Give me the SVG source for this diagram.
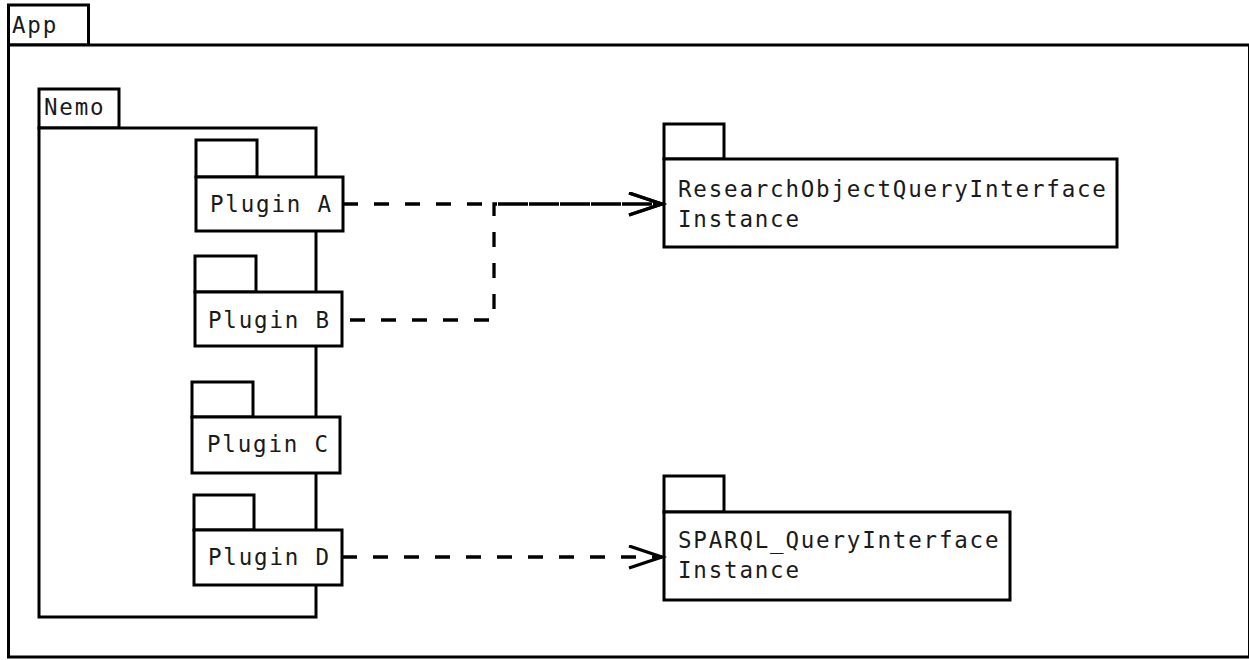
<svg xmlns="http://www.w3.org/2000/svg" width="1249" height="660" viewBox="0 0 1249 660">
  <style>
    .frame { fill: #ffffff; stroke: #000000; stroke-width: 3; }
    .label { font-family: "DejaVu Sans Mono", "Liberation Mono", monospace; font-size: 22.5px; letter-spacing: 1.8px; fill: #1a1a1a; }
    .dep { fill: none; stroke: #000000; stroke-width: 3.3; stroke-dasharray: 15 16; }
  </style>
  <defs>
    <marker id="open-arrow" markerUnits="userSpaceOnUse" markerWidth="40" markerHeight="30" refX="35" refY="12" orient="auto">
      <path d="M2,1 L35,12 L2,23" fill="none" stroke="#000000" stroke-width="3.3"/>
    </marker>
  </defs>
  <rect width="1249" height="660" fill="#ffffff"/>

  <!-- outer package -->
  <g id="app">
    <rect class="frame" x="8.5" y="5" width="80" height="40"/>
    <rect class="frame" x="8.5" y="45" width="1241" height="612"/>
    <text class="label" x="12" y="33">App</text>
  </g>

  <!-- inner package -->
  <g id="nemo">
    <rect class="frame" x="39" y="89" width="80" height="39"/>
    <rect class="frame" x="39" y="128" width="277" height="489"/>
    <text class="label" x="44" y="115">Nemo</text>
  </g>

  <g id="plugin-a">
    <rect class="frame" x="196" y="140" width="61" height="37"/>
    <rect class="frame" x="196" y="177" width="147" height="54"/>
    <text class="label" x="210" y="212">Plugin A</text>
  </g>

  <g id="plugin-b">
    <rect class="frame" x="195" y="256" width="61" height="36"/>
    <rect class="frame" x="195" y="292" width="147" height="54"/>
    <text class="label" x="208" y="328">Plugin B</text>
  </g>

  <g id="plugin-c">
    <rect class="frame" x="192" y="382" width="61" height="35"/>
    <rect class="frame" x="192" y="417" width="148" height="56"/>
    <text class="label" x="207" y="452">Plugin C</text>
  </g>

  <g id="plugin-d">
    <rect class="frame" x="194" y="495" width="60" height="35"/>
    <rect class="frame" x="194" y="530" width="148" height="55"/>
    <text class="label" x="208" y="565">Plugin D</text>
  </g>

  <g id="research-object-qi">
    <rect class="frame" x="664" y="124" width="60" height="35"/>
    <rect class="frame" x="664" y="159" width="453" height="88"/>
    <text class="label" x="678" y="197">ResearchObjectQueryInterface</text>
    <text class="label" x="678" y="227">Instance</text>
  </g>

  <g id="sparql-qi">
    <rect class="frame" x="664" y="476" width="60" height="36"/>
    <rect class="frame" x="664" y="512" width="346" height="88"/>
    <text class="label" x="678" y="548">SPARQL_QueryInterface</text>
    <text class="label" x="678" y="578">Instance</text>
  </g>

  <!-- dependency arrows -->
  <g id="connectors">
    <path class="dep" d="M343,204 L662,204" marker-end="url(#open-arrow)"/>
    <path class="dep" d="M342,320 L494,320 L494,204 L662,204" stroke-dashoffset="-8" marker-end="url(#open-arrow)"/>
    <path class="dep" d="M342,557 L662,557" marker-end="url(#open-arrow)"/>
  </g>
</svg>
